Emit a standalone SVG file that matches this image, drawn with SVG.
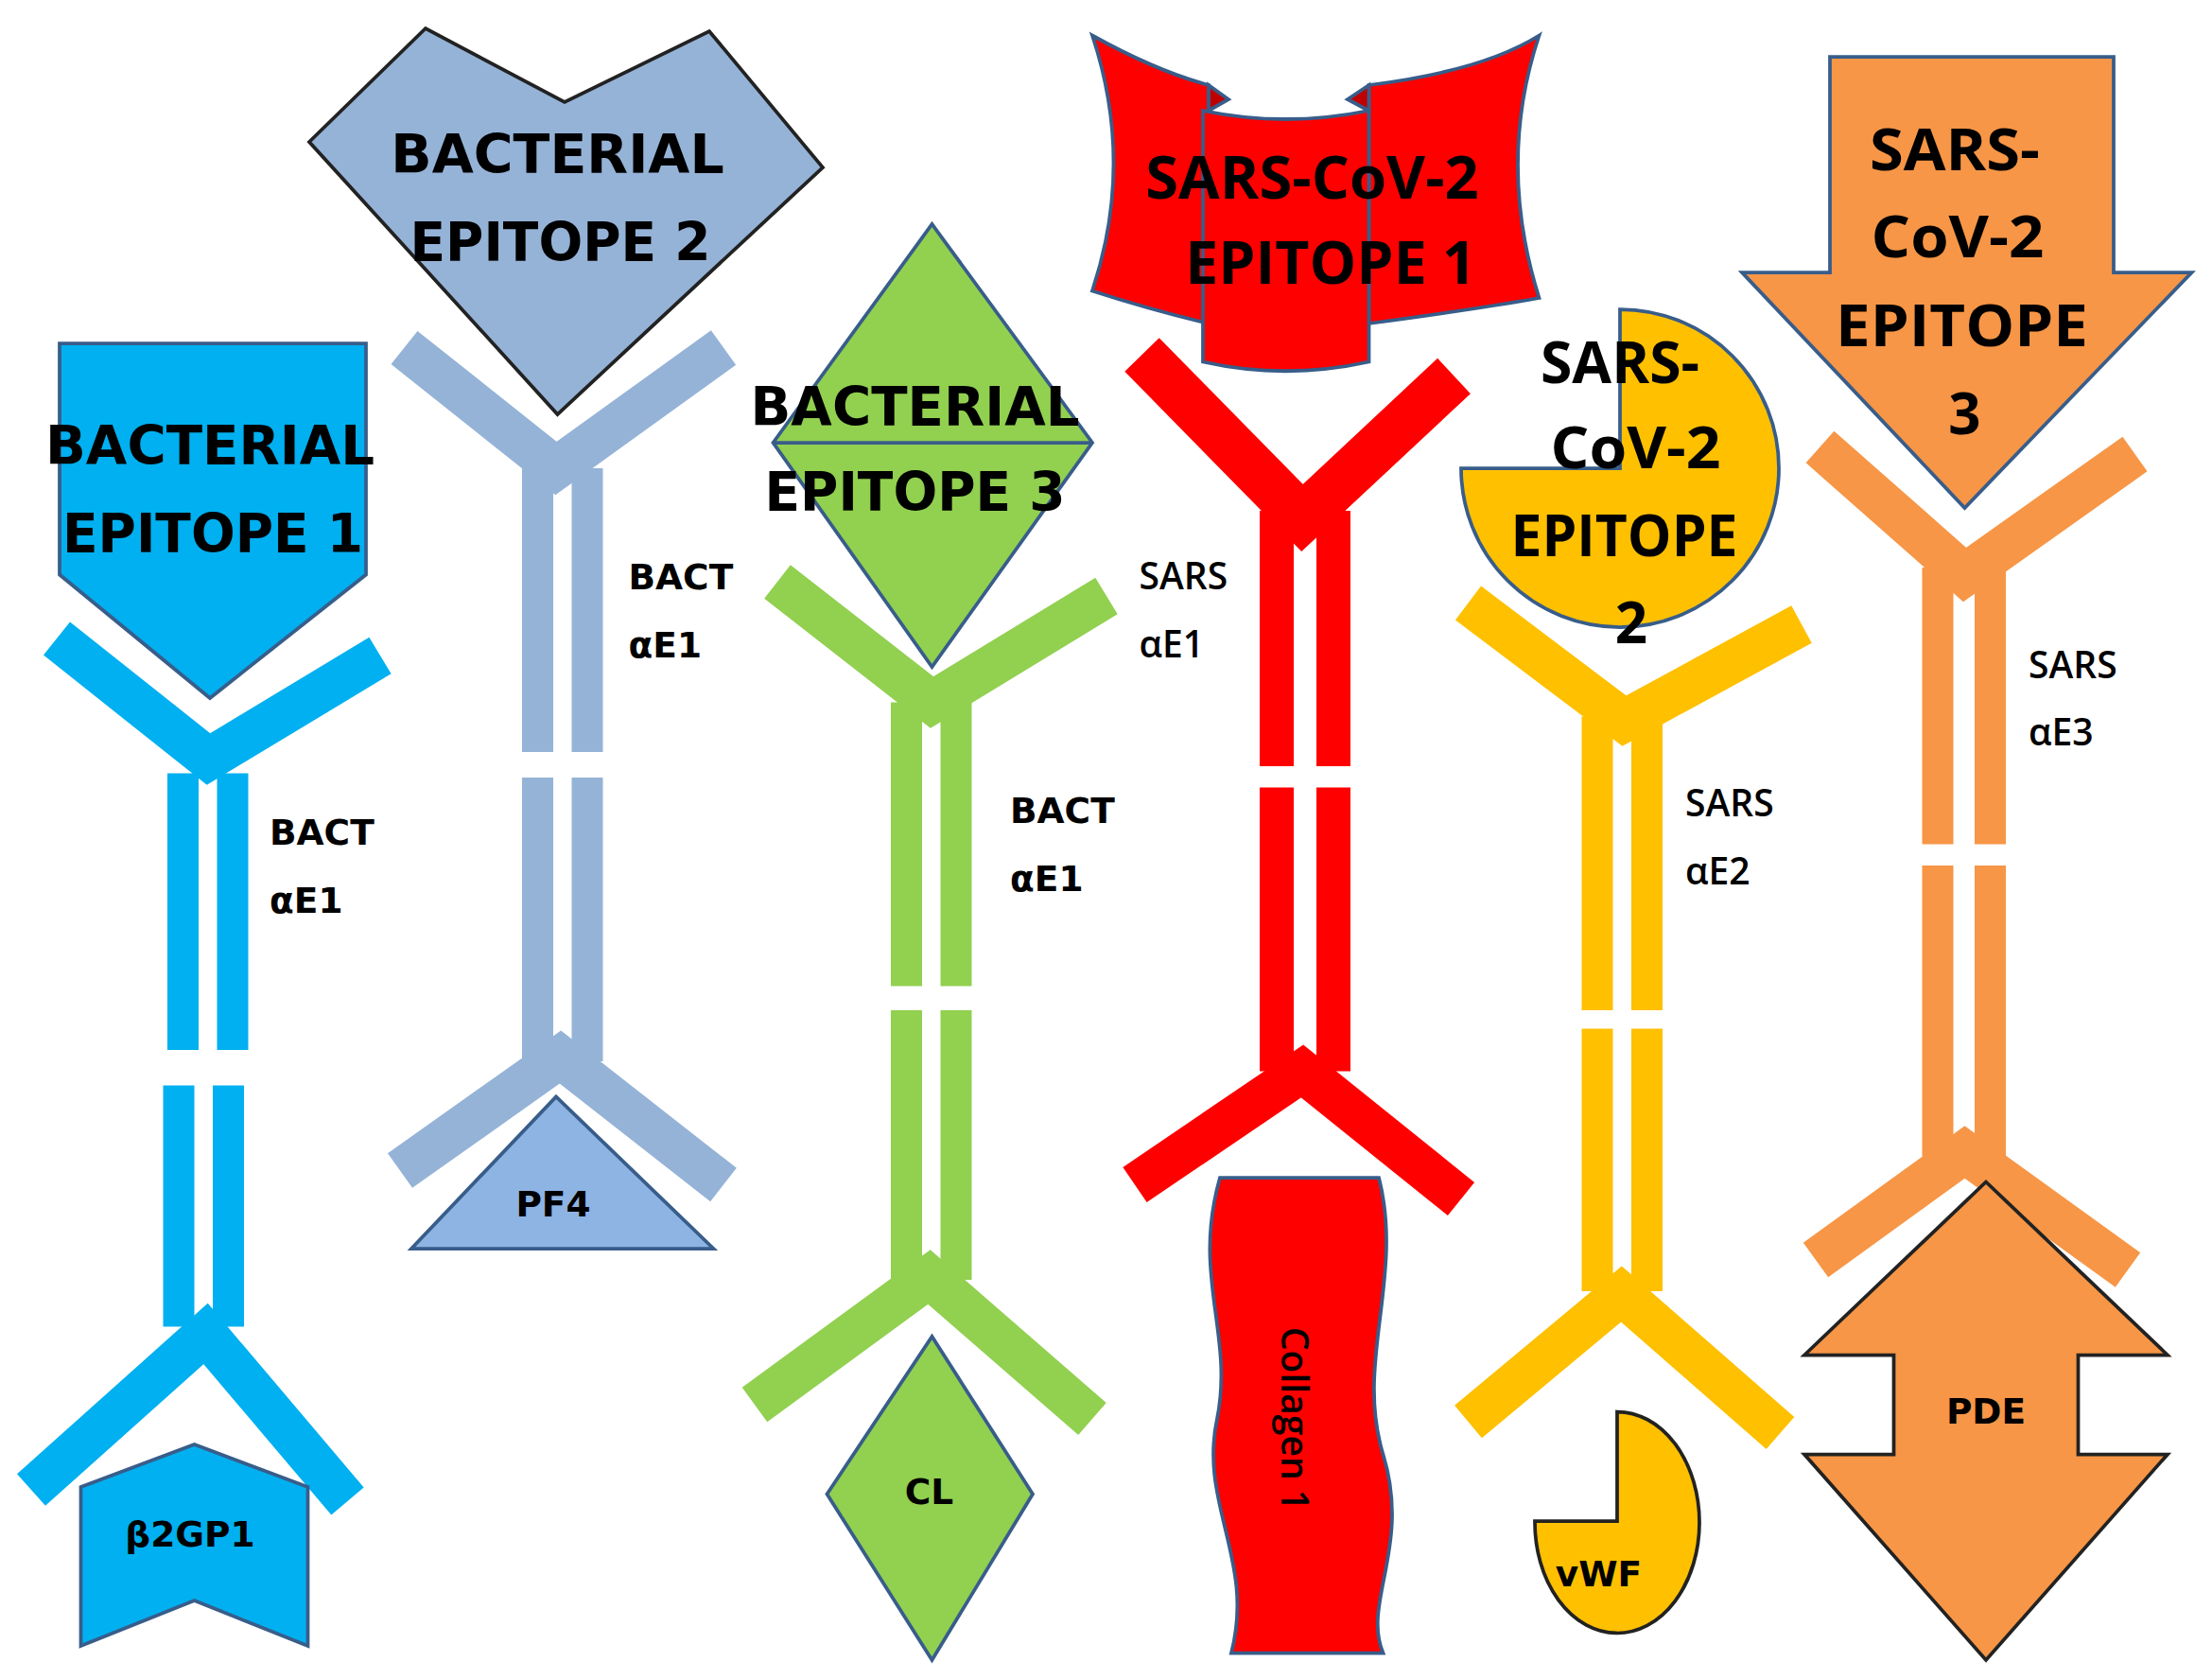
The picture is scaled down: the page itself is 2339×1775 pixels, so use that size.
<svg xmlns="http://www.w3.org/2000/svg" width="2339" height="1775" viewBox="0 0 2339 1775">
<style>
.arm{fill:none;stroke-width:30;stroke-linecap:butt}
.big{font-family:"DejaVu Sans",sans-serif;font-weight:bold;font-size:38px;text-anchor:middle;fill:#000}
.cal{font-family:"Open Sans","Liberation Sans",sans-serif;font-weight:bold;text-anchor:middle;fill:#000}
.lab{font-family:"DejaVu Sans",sans-serif;font-weight:bold;font-size:25px;fill:#000}
.slab{font-family:"Open Sans",sans-serif;font-weight:600;font-size:26px;fill:#000}
.ed{stroke:#385D8A;stroke-width:2.5}
</style>
<rect width="2339" height="1775" fill="#fff"/>
<g transform="scale(1.5)">
<g id="ab-blue" fill="#00B0F0" stroke="#00B0F0">
<path class="arm" d="M40,450 L147,535 L268,462"/>
<path class="arm" d="M22,1050 L145,940 L245,1058"/>
<g stroke="none"><rect x="118" y="545" width="22" height="195"/><rect x="153" y="545" width="22" height="195"/><rect x="115" y="765" width="22" height="170"/><rect x="150" y="765" width="22" height="170"/></g>
</g>
<g id="ab-grey" fill="#95B3D7" stroke="#95B3D7">
<path class="arm" d="M285,245 L392,330 L510,245"/>
<path class="arm" d="M282,825 L395,745 L510,835"/>
<g stroke="none"><rect x="368" y="330" width="22" height="200"/><rect x="403" y="330" width="22" height="200"/><rect x="368" y="548" width="22" height="200"/><rect x="403" y="548" width="22" height="200"/></g>
</g>
<g id="ab-green" fill="#92D050" stroke="#92D050">
<path class="arm" d="M548,410 L657,495 L780,420"/>
<path class="arm" d="M532,990 L655,900 L770,1000"/>
<g stroke="none"><rect x="628" y="495" width="22" height="200"/><rect x="663" y="495" width="22" height="200"/><rect x="628" y="712" width="22" height="190"/><rect x="663" y="712" width="22" height="190"/></g>
</g>
<g id="ab-red" fill="#FF0000" stroke="#FF0000">
<path class="arm" d="M805,250 L918,365 L1025,265" style="stroke-width:34"/>
<path class="arm" d="M800,835 L918,755 L1030,845" style="stroke-width:30"/>
<g stroke="none"><rect x="888" y="360" width="24" height="180"/><rect x="928" y="360" width="24" height="180"/><rect x="888" y="555" width="24" height="200"/><rect x="928" y="555" width="24" height="200"/></g>
</g>
<g id="ab-yellow" fill="#FFC000" stroke="#FFC000">
<path class="arm" d="M1035,425 L1145,508 L1270,440"/>
<path class="arm" d="M1035,1002 L1143,912 L1255,1010"/>
<g stroke="none"><rect x="1115" y="505" width="22" height="207"/><rect x="1150" y="505" width="22" height="207"/><rect x="1115" y="725" width="22" height="185"/><rect x="1150" y="725" width="22" height="185"/></g>
</g>
<g id="ab-orange" fill="#F79646" stroke="#F79646">
<path class="arm" d="M1283,315 L1385,405 L1505,320"/>
<path class="arm" d="M1280,888 L1385,812 L1500,895"/>
<g stroke="none"><rect x="1355" y="400" width="22" height="195"/><rect x="1392" y="400" width="22" height="195"/><rect x="1355" y="610" width="22" height="205"/><rect x="1392" y="610" width="22" height="205"/></g>
</g>

<g id="bact-epitope-1"><polygon class="ed" fill="#00B0F0" points="42,242 258,242 258,405 148,492 42,405"/>
<text class="big" x="148" y="327" textLength="232" lengthAdjust="spacingAndGlyphs">BACTERIAL</text>
<text class="big" x="150" y="389" textLength="212" lengthAdjust="spacingAndGlyphs">EPITOPE 1</text></g>
<g id="b2gp1"><polygon class="ed" fill="#00B0F0" points="57,1048 137,1018 217,1048 217,1160 137,1128 57,1160"/>
<text class="lab" x="134" y="1090" text-anchor="middle">β2GP1</text></g>
<g id="bact-epitope-2"><polygon stroke="#222" stroke-width="2.5" fill="#95B3D7" points="218,100 300,20 398,72 500,22 580,118 393,292"/>
<text class="big" x="393" y="122" textLength="235" lengthAdjust="spacingAndGlyphs">BACTERIAL</text>
<text class="big" x="395" y="184" textLength="212" lengthAdjust="spacingAndGlyphs">EPITOPE 2</text></g>
<g id="pf4"><polygon class="ed" fill="#8EB4E3" points="290,880 392,773 503,880"/>
<text class="lab" x="390" y="857" text-anchor="middle">PF4</text></g>
<g id="bact-epitope-3"><polygon class="ed" fill="#92D050" points="545,312 657,158 770,312 657,470"/><line class="ed" x1="545" y1="312" x2="770" y2="312"/>
<text class="big" x="645" y="300" textLength="232" lengthAdjust="spacingAndGlyphs">BACTERIAL</text>
<text class="big" x="645" y="360" textLength="212" lengthAdjust="spacingAndGlyphs">EPITOPE 3</text></g>
<g id="cl"><polygon class="ed" fill="#92D050" points="583,1053 657,942 728,1053 657,1170"/>
<text class="lab" x="655" y="1060" text-anchor="middle">CL</text></g>
<g id="sars-epitope-1" fill="#FF0000">
<path class="ed" d="M770,25 Q815,50 852,60 L852,228 Q810,218 770,205 Q800,115 770,25 Z"/>
<path class="ed" d="M1085,25 Q1045,50 965,60 L965,228 Q1040,218 1085,210 Q1055,115 1085,25 Z"/>
<path class="ed" fill="#C00000" d="M852,60 L866,70 L852,78 Z M965,60 L950,70 L965,78 Z"/>
<path class="ed" d="M848,78 Q906,90 965,78 L965,255 Q906,268 848,255 Z"/>
<text class="cal" x="925" y="140" font-size="42" textLength="235" lengthAdjust="spacingAndGlyphs">SARS-CoV-2</text>
<text class="cal" x="938" y="200" font-size="42" textLength="205" lengthAdjust="spacingAndGlyphs">EPITOPE 1</text></g>
<g id="collagen-1"><path class="ed" stroke="#222" fill="#FF0000" d="M860,830 L972,830 C990,900 955,960 975,1025 C995,1090 960,1130 975,1165 L868,1165 C885,1100 845,1060 858,1000 C870,940 840,900 860,830 Z"/>
<text class="slab" transform="translate(903,1000) rotate(90)" text-anchor="middle" font-size="30">Collagen 1</text></g>
<g id="sars-epitope-2"><path class="ed" fill="#FFC000" d="M1142,330 L1030,330 A112,112 0 1,0 1142,218 Z"/>
<text class="cal" x="1142" y="270" font-size="40" textLength="112" lengthAdjust="spacingAndGlyphs">SARS-</text>
<text class="cal" x="1153" y="330" font-size="40" textLength="120" lengthAdjust="spacingAndGlyphs">CoV-2</text>
<text class="cal" x="1145" y="392" font-size="40" textLength="160" lengthAdjust="spacingAndGlyphs">EPITOPE</text>
<text class="cal" x="1150" y="453" font-size="40">2</text></g>
<g id="vwf"><path stroke="#222" stroke-width="2.5" fill="#FFC000" d="M1140,1072 L1082,1072 A58,78 0 1,0 1140,995 Z"/>
<text class="lab" x="1127" y="1118" text-anchor="middle">vWF</text></g>
<g id="sars-epitope-3"><polygon class="ed" fill="#F79646" points="1290,40 1490,40 1490,192 1545,192 1385,358 1228,192 1290,192"/>
<text class="cal" x="1378" y="120" font-size="40" textLength="120" lengthAdjust="spacingAndGlyphs">SARS-</text>
<text class="cal" x="1380" y="181" font-size="40" textLength="122" lengthAdjust="spacingAndGlyphs">CoV-2</text>
<text class="cal" x="1383" y="244" font-size="40" textLength="178" lengthAdjust="spacingAndGlyphs">EPITOPE</text>
<text class="cal" x="1385" y="306" font-size="40">3</text></g>
<g id="pde"><polygon stroke="#222" stroke-width="2.5" fill="#F79646" points="1400,833 1528,955 1465,955 1465,1025 1528,1025 1400,1170 1272,1025 1335,1025 1335,955 1272,955"/>
<text class="lab" x="1400" y="1003" text-anchor="middle">PDE</text></g>

<g id="labels">
<text class="lab" x="190" y="595">BACT</text><text class="lab" x="190" y="643">αE1</text>
<text class="lab" x="443" y="415">BACT</text><text class="lab" x="443" y="463">αE1</text>
<text class="lab" x="712" y="580">BACT</text><text class="lab" x="712" y="628">αE1</text>
<text class="slab" x="803" y="415">SARS</text><text class="slab" x="803" y="463">αE1</text>
<text class="slab" x="1188" y="575">SARS</text><text class="slab" x="1188" y="623">αE2</text>
<text class="slab" x="1430" y="478">SARS</text><text class="slab" x="1430" y="525">αE3</text>
</g>
</g>
</svg>
